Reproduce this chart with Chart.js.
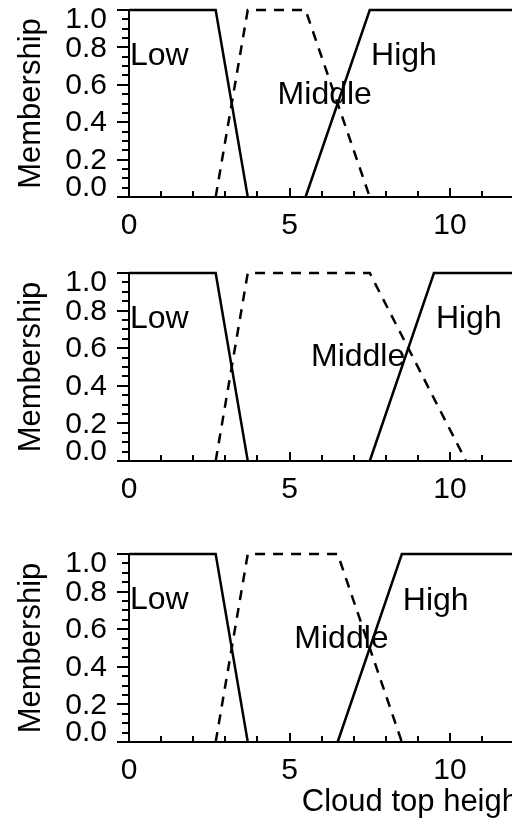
<!DOCTYPE html>
<html>
<head>
<meta charset="utf-8">
<script src="https://cdn.jsdelivr.net/npm/chart.js@4.4.1/dist/chart.umd.min.js"></script>
<style>
  html, body { margin: 0; padding: 0; background: #fff; }
  #page { position: relative; width: 512px; height: 825px; overflow: hidden; }
  .panel { position: absolute; left: 0; }
</style>
</head>
<body>
<div id="page">
  <canvas class="panel" id="c1" width="800" height="250" style="top:0px"></canvas>
  <canvas class="panel" id="c2" width="800" height="250" style="top:263px"></canvas>
  <canvas class="panel" id="c3" width="800" height="281" style="top:544px"></canvas>
</div>
<script>
const xTickValues = [0, 5, 10, 15, 20];
const yTickValues = [0.0, 0.2, 0.4, 0.6, 0.8, 1.0];

// Low is the same in all three panels
const lowX = [0, 2.7, 3.7];
const lowY = [1, 1, 0];

const middleX1 = [2.7, 3.7, 5.5, 7.5];
const middleX2 = [2.7, 3.7, 7.5, 10.5];
const middleX3 = [2.7, 3.7, 6.5, 8.5];
const middleY = [0, 1, 1, 0];

const highX1 = [5.5, 7.5, 20];
const highX2 = [7.5, 9.5, 20];
const highX3 = [6.5, 8.5, 20];
const highY = [0, 1, 1];

// names written inside each panel (left edge x, baseline y, in data units)
const classNames = ['Low', 'Middle', 'High'];
const nameX1 = [0.03, 4.63, 7.54];
const nameX2 = [0.03, 5.67, 9.56];
const nameX3 = [0.03, 5.15, 8.53];
const nameY1 = [0.705, 0.5, 0.705];
const nameY2 = [0.705, 0.505, 0.705];
const nameY3 = [0.705, 0.5, 0.7];

const FONT = '"Liberation Sans", Arial, Helvetica, sans-serif';
Chart.defaults.font.family = FONT;
Chart.defaults.color = '#000';

const toPoints = (xs, ys) => xs.map((x, i) => ({ x: x, y: ys[i] }));

// minor/major tick marks, y labels (end ones pulled inside) and class names
const axisDecor = {
  id: 'axisDecor',
  afterDraw(chart, args, opts) {
    const ctx = chart.ctx;
    const xs = chart.scales.x, ys = chart.scales.y;
    const { left, top, bottom } = chart.chartArea;
    ctx.save();
    ctx.strokeStyle = '#000';
    ctx.lineWidth = 2;
    ctx.beginPath();
    for (let i = 0; i <= 20; i++) {
      const y = Math.round(ys.getPixelForValue(i * 0.05));
      const len = i % 4 === 0 ? 12 : 7;
      ctx.moveTo(left - len, y);
      ctx.lineTo(left, y);
    }
    for (let v = 1; v <= xs.max; v++) {
      const x = Math.round(xs.getPixelForValue(v));
      const len = v % 5 === 0 ? 9 : 6;
      ctx.moveTo(x, bottom);
      ctx.lineTo(x, bottom - len);
    }
    ctx.stroke();

    ctx.fillStyle = '#000';
    ctx.font = '30px ' + FONT;
    ctx.textAlign = 'right';
    ctx.textBaseline = 'middle';
    yTickValues.forEach(v => {
      let y = ys.getPixelForValue(v) + 1;
      y = Math.max(top + 10, Math.min(bottom - 9, y));
      ctx.fillText(v.toFixed(1), left - 22, y);
    });

    ctx.font = '32px ' + FONT;
    ctx.textAlign = 'left';
    ctx.textBaseline = 'alphabetic';
    classNames.forEach((name, i) => {
      ctx.fillText(name, xs.getPixelForValue(opts.nx[i]), ys.getPixelForValue(opts.ny[i]));
    });
    ctx.restore();
  }
};

function makePanel(id, middleX, highX, nx, ny, xAxisHeight, showTitle) {
  const lineStyle = { borderColor: '#000', borderWidth: 2.5, pointRadius: 0, tension: 0, fill: false, clip: false };
  new Chart(document.getElementById(id), {
    type: 'line',
    data: {
      datasets: [
        { label: 'Low', data: toPoints(lowX, lowY), ...lineStyle },
        { label: 'Middle', data: toPoints(middleX, middleY), ...lineStyle, borderDash: [10, 8] },
        { label: 'High', data: toPoints(highX, highY), ...lineStyle }
      ]
    },
    options: {
      responsive: false,
      animation: false,
      layout: { padding: { top: 10, right: 29, left: 0, bottom: 0 } },
      plugins: {
        legend: { display: false },
        tooltip: { enabled: false },
        axisDecor: { nx: nx, ny: ny }
      },
      scales: {
        x: {
          type: 'linear',
          min: xTickValues[0],
          max: xTickValues[xTickValues.length - 1],
          grid: { display: false, drawTicks: false },
          border: { display: true, color: '#000', width: 2 },
          ticks: { stepSize: 5, padding: 11, maxRotation: 0, autoSkip: false, font: { size: 30 } },
          title: {
            display: showTitle,
            text: 'Cloud top height (km)',
            font: { size: 31 },
            padding: { top: 0, bottom: 4 }
          },
          afterFit(scale) { scale.height = xAxisHeight; }
        },
        y: {
          type: 'linear',
          min: 0,
          max: 1,
          grid: { display: false, drawTicks: false },
          border: { display: true, color: '#000', width: 2 },
          ticks: { display: false, stepSize: 0.2 },
          title: {
            display: true,
            text: 'Membership',
            font: { size: 31 },
            padding: { top: 13, bottom: 0 }
          },
          afterFit(scale) { scale.width = 129; }
        }
      }
    },
    plugins: [axisDecor]
  });
}

makePanel('c1', middleX1, highX1, nameX1, nameY1, 53, false);
makePanel('c2', middleX2, highX2, nameX2, nameY2, 52, false);
makePanel('c3', middleX3, highX3, nameX3, nameY3, 83, true);
</script>
</body>
</html>
